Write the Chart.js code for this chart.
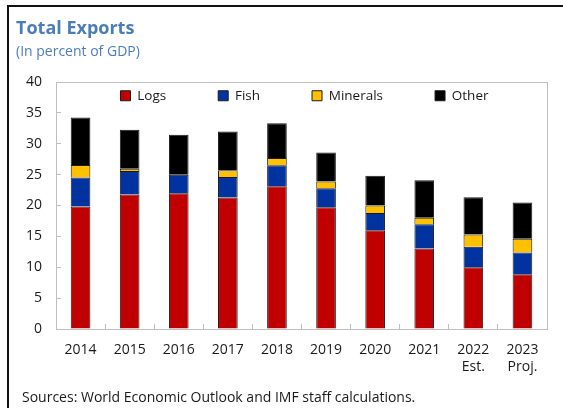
<!DOCTYPE html>
<html>
<head>
<meta charset="utf-8">
<script src="https://cdn.jsdelivr.net/npm/chart.js@4.4.1/dist/chart.umd.min.js"></script>
<style>
  html, body { margin: 0; padding: 0; background: #fff; }
  body { width: 563px; height: 408px; position: relative; overflow: hidden; font-family: 'Open Sans', sans-serif; }
  .frame { position: absolute; left: 7px; top: 5px; right: -10px; bottom: -10px; border-left: 2px solid #111; border-top: 2px solid #111; }
  #exportsChart { position: absolute; left: 0; top: 0; }
  .title { position: absolute; left: 16px; top: 15px; font-size: 18px; font-weight: 700; color: #4a7ebb; }
  .subtitle { position: absolute; left: 16px; top: 41px; font-size: 14px; color: #4a7ebb; }
  .source { position: absolute; left: 22px; top: 387px; font-size: 14px; color: #1a1a1a; }
</style>
</head>
<body>
<div class="frame"></div>
<canvas id="exportsChart" width="563" height="408"></canvas>
<div class="title">Total Exports</div>
<div class="subtitle">(In percent of GDP)</div>
<div class="source">Sources: World Economic Outlook and IMF staff calculations.</div>
<script>
const years = ['2014', '2015', '2016', '2017', '2018', '2019', '2020', '2021', ['2022', 'Est.'], ['2023', 'Proj.']];
const logs = [19.85, 21.8, 22.0, 21.3, 23.1, 19.7, 16.0, 13.05, 10.0, 8.85];
const fish = [4.7, 3.8, 3.0, 3.3, 3.4, 3.1, 2.8, 3.9, 3.3, 3.55];
const minerals = [2.0, 0.35, 0.0, 1.1, 1.2, 1.1, 1.2, 1.05, 2.0, 2.2];
const other = [7.7, 6.3, 6.45, 6.3, 5.6, 4.7, 4.8, 6.1, 6.05, 5.9];

const AXIS_GRAY = '#bfbfbf';
const LEGEND_PAD = 52;

Chart.defaults.font.family = "'Open Sans', sans-serif";
Chart.defaults.font.size = 14;
Chart.defaults.color = '#1a1a1a';

// gray box round the plot, and the legend moved down inside it
const plotFrame = {
  id: 'plotFrame',
  afterLayout(chart){
    const ca = chart.chartArea, lg = chart.legend;
    lg.left = ca.left - LEGEND_PAD / 2 + 3;
    lg.right = ca.right + LEGEND_PAD / 2 + 3;
    lg.top = ca.top + 7 - LEGEND_PAD;
    lg.bottom = ca.bottom;
  },
  afterDraw(chart){
    const {ctx, chartArea: ca} = chart;
    ctx.save();
    ctx.strokeStyle = AXIS_GRAY; ctx.lineWidth = 1;
    ctx.strokeRect(Math.round(ca.left) + 0.5, Math.round(ca.top) + 0.5, Math.round(ca.right - ca.left), Math.round(ca.bottom - ca.top));
    ctx.restore();
  }
};

function series(label, data, color){
  return { label, data, backgroundColor: color, borderColor: '#1a1a1a', borderWidth: 1, barPercentage: 0.5, categoryPercentage: 0.8 };
}

new Chart(document.getElementById('exportsChart').getContext('2d'), {
  type: 'bar',
  data: {
    labels: years,
    datasets: [
      series('Logs', logs, '#c00000'),
      series('Fish', fish, '#0033a0'),
      series('Minerals', minerals, '#ffc000'),
      series('Other', other, '#000000')
    ]
  },
  options: {
    responsive: false,
    animation: false,
    layout: { padding: { top: 6.5, right: 16, bottom: 0, left: 0 } },
    plugins: {
      legend: { position: 'top', labels: { boxWidth: 10, boxHeight: 10, padding: LEGEND_PAD, color: '#1a1a1a', font: { size: 13.5 } } },
      tooltip: { enabled: false }
    },
    scales: {
      x: {
        stacked: true,
        grid: { drawOnChartArea: false, tickLength: -5, color: AXIS_GRAY },
        border: { color: AXIS_GRAY },
        ticks: { padding: 18, maxRotation: 0, autoSkip: false },
        afterFit(scale){ scale.height = 79; }
      },
      y: {
        stacked: true,
        min: 0, max: 40,
        grid: { drawOnChartArea: false, tickLength: -5, color: AXIS_GRAY },
        border: { color: AXIS_GRAY },
        ticks: { stepSize: 5, padding: 19 },
        afterFit(scale){ scale.width = 56; }
      }
    }
  },
  plugins: [plotFrame]
});
</script>
</body>
</html>
